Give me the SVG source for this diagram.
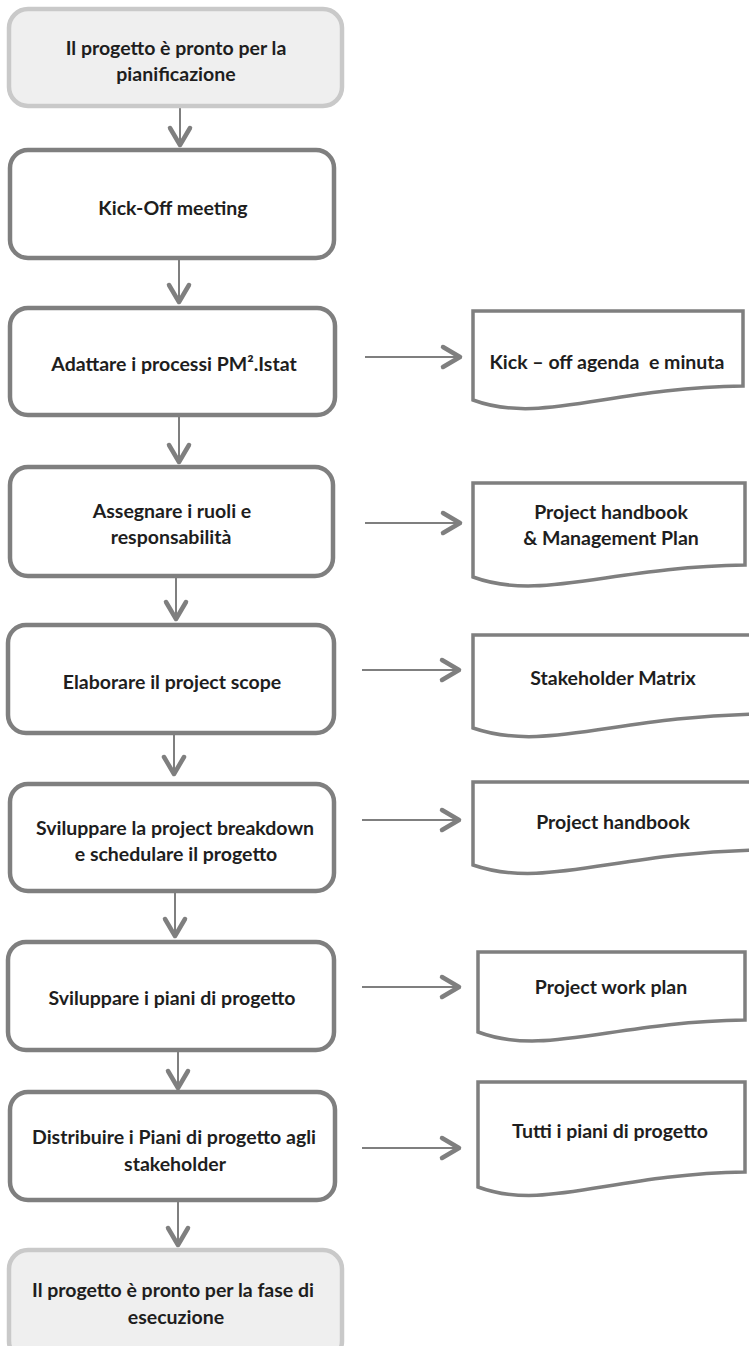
<svg xmlns="http://www.w3.org/2000/svg" width="749" height="1346" viewBox="0 0 749 1346">
  <defs>
    <style>
      .step { fill: #ffffff; stroke: #7f7f7f; stroke-width: 4.5; }
      .term { fill: #efefef; stroke: #c9c9c9; stroke-width: 4.5; }
      .doc { fill: #ffffff; stroke: #7f7f7f; stroke-width: 3.5; stroke-linejoin: miter; }
      .lbl { font-family: Lato, "Open Sans", "Liberation Sans", sans-serif; font-weight: 700; font-size: 19.5px; fill: #1e1e1e; text-anchor: middle; }
      .shaft { stroke: #7f7f7f; stroke-width: 2; fill: none; }
      .head { stroke: #7f7f7f; stroke-width: 4.5; fill: none; stroke-linecap: round; stroke-linejoin: round; }
    </style>
  </defs>
  <rect width="749" height="1346" fill="#ffffff"/>

  <!-- connectors -->
  <g id="connectors">
    <!-- vertical flow -->
    <line class="shaft" x1="180" y1="108" x2="180" y2="145"/>
    <polyline class="head" points="170,128 180,145 190,128"/>
    <line class="shaft" x1="179" y1="252" x2="179" y2="302"/>
    <polyline class="head" points="169,285 179,302 189,285"/>
    <line class="shaft" x1="179" y1="414" x2="179" y2="462"/>
    <polyline class="head" points="169,445 179,462 189,445"/>
    <line class="shaft" x1="176" y1="563" x2="176" y2="619"/>
    <polyline class="head" points="166,602 176,619 186,602"/>
    <line class="shaft" x1="174" y1="717" x2="174" y2="774"/>
    <polyline class="head" points="164,757 174,774 184,757"/>
    <line class="shaft" x1="175" y1="865" x2="175" y2="936"/>
    <polyline class="head" points="165,919 175,936 185,919"/>
    <line class="shaft" x1="178" y1="1018" x2="178" y2="1088"/>
    <polyline class="head" points="168,1071 178,1088 188,1071"/>
    <line class="shaft" x1="178" y1="1188" x2="178" y2="1245"/>
    <polyline class="head" points="168,1228 178,1245 188,1228"/>
    <!-- outputs -->
    <line class="shaft" x1="365" y1="357" x2="460" y2="357"/>
    <polyline class="head" points="443,347 460,357 443,367"/>
    <line class="shaft" x1="365" y1="523" x2="460" y2="523"/>
    <polyline class="head" points="443,513 460,523 443,533"/>
    <line class="shaft" x1="362" y1="670" x2="459" y2="670"/>
    <polyline class="head" points="442,660 459,670 442,680"/>
    <line class="shaft" x1="362" y1="820" x2="459" y2="820"/>
    <polyline class="head" points="442,810 459,820 442,830"/>
    <line class="shaft" x1="362" y1="987" x2="459" y2="987"/>
    <polyline class="head" points="442,977 459,987 442,997"/>
    <line class="shaft" x1="362" y1="1148" x2="459" y2="1148"/>
    <polyline class="head" points="442,1138 459,1148 442,1158"/>
  </g>

  <!-- process steps -->
  <g id="start">
    <rect class="term" x="9" y="9" width="333" height="97" rx="19"/>
    <text class="lbl" x="176" y="55">Il progetto è pronto per la</text>
    <text class="lbl" x="176" y="81">pianificazione</text>
  </g>
  <g id="kickoff">
    <rect class="step" x="10" y="150" width="324" height="108" rx="18"/>
    <text class="lbl" x="173" y="215">Kick-Off meeting</text>
  </g>
  <g id="adattare">
    <rect class="step" x="10" y="308" width="325" height="107" rx="18"/>
    <text class="lbl" x="174" y="371">Adattare i processi PM².Istat</text>
  </g>
  <g id="assegnare">
    <rect class="step" x="10" y="467" width="323" height="109" rx="18"/>
    <text class="lbl" x="172" y="518">Assegnare i ruoli e</text>
    <text class="lbl" x="171" y="544">responsabilità</text>
  </g>
  <g id="scope">
    <rect class="step" x="8" y="625" width="326" height="108" rx="18"/>
    <text class="lbl" x="172" y="689">Elaborare il project scope</text>
  </g>
  <g id="breakdown">
    <rect class="step" x="10" y="784" width="324" height="107" rx="18"/>
    <text class="lbl" x="175" y="835">Sviluppare la project breakdown</text>
    <text class="lbl" x="176" y="861">e schedulare il progetto</text>
  </g>
  <g id="piani">
    <rect class="step" x="8" y="942" width="326" height="108" rx="18"/>
    <text class="lbl" x="172" y="1005">Sviluppare i piani di progetto</text>
  </g>
  <g id="distribuire">
    <rect class="step" x="10" y="1092" width="325" height="108" rx="18"/>
    <text class="lbl" x="174" y="1144">Distribuire i Piani di progetto agli</text>
    <text class="lbl" x="175" y="1171">stakeholder</text>
  </g>
  <g id="end">
    <rect class="term" x="9" y="1250" width="333" height="110" rx="19"/>
    <text class="lbl" x="173" y="1297">Il progetto è pronto per la fase di</text>
    <text class="lbl" x="176" y="1324">esecuzione</text>
  </g>

  <!-- output documents -->
  <g id="doc-agenda">
    <path class="doc" d="M473,311 H743 V386 C608,388 540,425 473,400 Z"/>
    <text class="lbl" x="607" y="369" style="white-space:pre">Kick – off agenda  e minuta</text>
  </g>
  <g id="doc-handbook-plan">
    <path class="doc" d="M473,483 H745 V565 C609,567 541,602 473,577 Z"/>
    <text class="lbl" x="611" y="519">Project handbook</text>
    <text class="lbl" x="611" y="545">&amp; Management Plan</text>
  </g>
  <g id="doc-stakeholder">
    <path class="doc" d="M473,635 H760 V714 C616,716 545,753 473,728 Z"/>
    <text class="lbl" x="613" y="685">Stakeholder Matrix</text>
  </g>
  <g id="doc-handbook">
    <path class="doc" d="M473,782 H760 V850 C616,852 545,890 473,865 Z"/>
    <text class="lbl" x="613" y="829">Project handbook</text>
  </g>
  <g id="doc-workplan">
    <path class="doc" d="M478,952 H745 V1020 C611,1022 545,1057 478,1032 Z"/>
    <text class="lbl" x="611" y="994">Project work plan</text>
  </g>
  <g id="doc-all-plans">
    <path class="doc" d="M478,1082 H745 V1172 C611,1174 545,1212 478,1187 Z"/>
    <text class="lbl" x="610" y="1138">Tutti i piani di progetto</text>
  </g>
</svg>
